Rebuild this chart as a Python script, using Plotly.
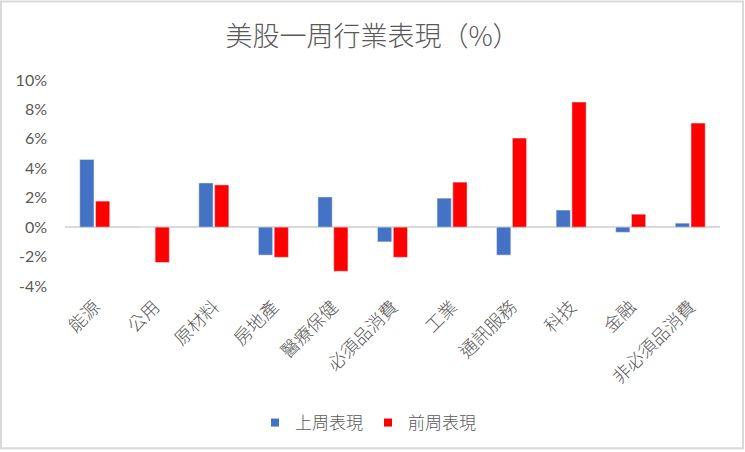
import plotly.graph_objects as go

categories = ["能源", "公用", "原材料", "房地產", "醫療保健", "必須品消費", "工業",
              "通訊服務", "科技", "金融", "非必須品消費"]
last_week = [4.6, 0.0, 3.0, -1.9, 2.05, -1.0, 1.97, -1.9, 1.16, -0.35, 0.27]
prev_week = [1.77, -2.4, 2.87, -2.05, -3.0, -2.05, 3.06, 6.05, 8.5, 0.88, 7.07]
series_names = ["上周表現", "前周表現"]
series_colors = ["#4472C4", "#FF0000"]
y_ticks = [-4, -2, 0, 2, 4, 6, 8, 10]
y_tick_labels = [f"{v}%" for v in y_ticks]

W, H = 745, 452
ML, MR, MT, MB = 65, 25, 80, 165
PW, PH = W - ML - MR, H - MT - MB

cjk = "Noto Sans CJK TC"
gray = "#595959"

fig = go.Figure()
for vals, name, col in zip([last_week, prev_week], series_names, series_colors):
    fig.add_trace(go.Bar(x=categories, y=vals, name=name, marker_color=col,
                         showlegend=False))
# legend entries with small square keys
for name, col in zip(series_names, series_colors):
    fig.add_trace(go.Scatter(x=[None], y=[None], mode="markers", name=name,
                             marker=dict(symbol="square", size=8, color=col)))

def px_x(p):
    return (p - ML) / PW

def px_y(p):
    return (MT + PH - p) / PH

fig.update_layout(
    width=W, height=H,
    margin=dict(l=ML, r=MR, t=MT, b=MB, pad=0),
    paper_bgcolor="white", plot_bgcolor="white",
    barmode="group", bargap=0.47, bargroupgap=0.1,
    title=dict(text="美股一周行業表現（%）", x=0.5, xref="container", xanchor="center",
               y=1 - 37 / H, yref="container", yanchor="middle",
               font=dict(family=cjk, size=27, color=gray, weight=300)),
    legend=dict(orientation="h", x=px_x(368), xanchor="center",
                y=px_y(423), yanchor="middle",
                font=dict(family=cjk, size=17, color=gray, weight=300),
                itemwidth=30, traceorder="normal"),
    font=dict(family=cjk, color=gray),
    xaxis=dict(showgrid=False, showline=False, ticks="", tickangle=-45,
               tickfont=dict(family=cjk, size=18, color=gray, weight=300),
               ticklabelstandoff=6),
    yaxis=dict(range=[-4, 10], tickvals=y_ticks, ticktext=y_tick_labels,
               showgrid=False, showline=False, ticks="",
               zeroline=True, zerolinecolor="#d9d9d9", zerolinewidth=2,
               tickfont=dict(family="Lato", size=16, color=gray),
               ticklabelstandoff=17),
    shapes=[dict(type="rect", xref="paper", yref="paper",
                 x0=px_x(1), x1=px_x(W - 2), y0=px_y(H - 2), y1=px_y(1),
                 line=dict(color="#d9d9d9", width=2), fillcolor="rgba(0,0,0,0)",
                 layer="below")],
)

fig.write_html("out.html", config={"displayModeBar": False},
               post_script="document.body.style.margin='0px';document.body.style.overflow='hidden';")
